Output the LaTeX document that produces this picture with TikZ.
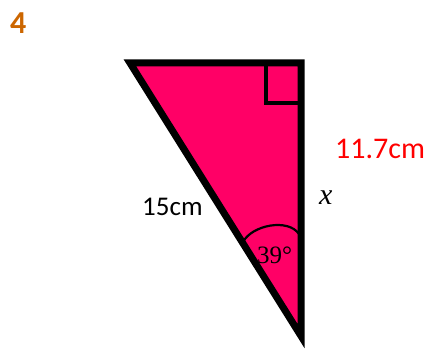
\documentclass[tikz,border=0pt]{standalone}
\usepackage{fontspec}
\setmainfont{Carlito}
\newfontfamily\serifnum{Liberation Serif}
\definecolor{tripink}{RGB}{255,0,102}
\definecolor{numorange}{RGB}{204,102,0}
\definecolor{lblred}{RGB}{255,0,0}
\tikzset{
  tri/.style={draw=black, fill=tripink, line width=7pt, line join=miter},
  rightsq/.style={draw=black, line width=4pt, line join=miter},
  anglearc/.style={draw=black, line width=2.2pt},
  lbl/.style={inner sep=0pt, anchor=base west}
}
\begin{document}
\begin{tikzpicture}[x=1pt,y=-1pt]
\useasboundingbox (0,0) rectangle (430,352);
\coordinate (A) at (130,63);
\coordinate (B) at (301,63);
\coordinate (C) at (301,336);
\filldraw[tri] (A) -- (B) -- (C) -- cycle;
\coordinate (s1) at (266,63);
\coordinate (s2) at (266,103);
\coordinate (s3) at (301,103);
\draw[rightsq] (s1) -- (s2) -- (s3);
\coordinate (a1) at (243,242);
\coordinate (a2) at (299,234);
\draw[anglearc] (a1) .. controls (252,225) and (288,218) .. (a2);
\node[lbl, text=numorange, font=\fontsize{32}{38}\selectfont\bfseries] (num) at (10,34) {4};
\node[lbl, text=lblred, font=\fontsize{30}{36}\selectfont] (len) at (335,159) {11.7cm};
\node[lbl, font=\fontsize{27}{32}\selectfont] (hyp) at (142,215) {15cm};
\node[lbl, font=\fontsize{30}{36}\selectfont\serifnum\itshape] (xx) at (319,205) {x};
\node[lbl, font=\fontsize{25}{30}\selectfont\serifnum] (ang) at (257,263) {39°};
\end{tikzpicture}
\end{document}
